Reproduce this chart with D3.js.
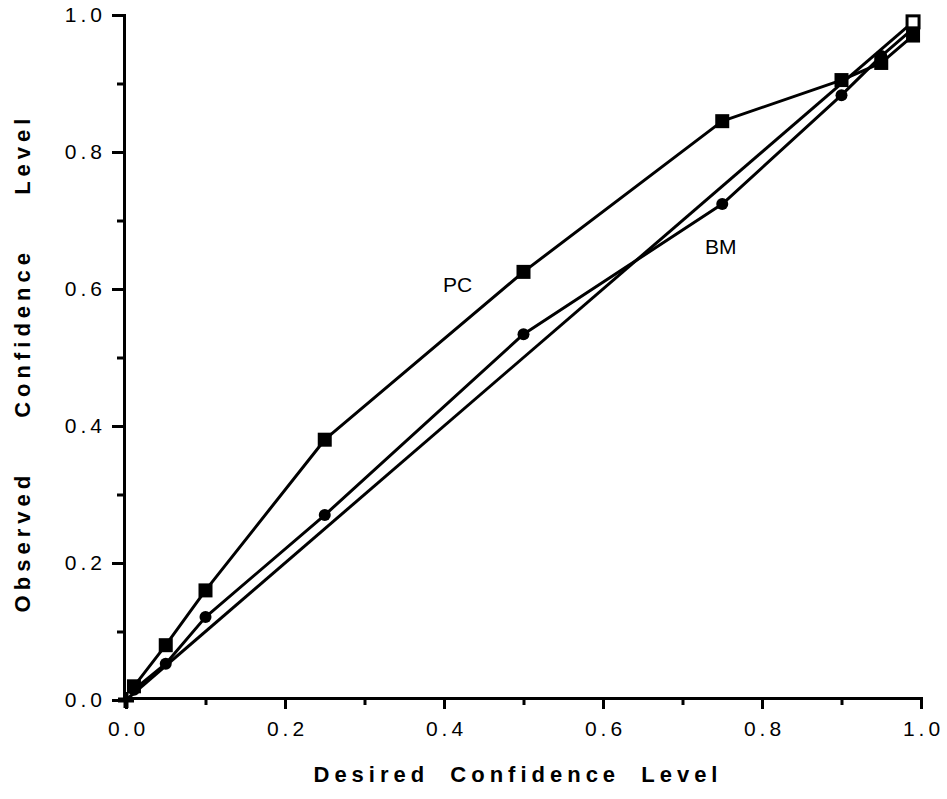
<!DOCTYPE html>
<html>
<head>
<meta charset="utf-8">
<script src="https://cdn.jsdelivr.net/npm/d3@7"></script>
<style>
  body { margin: 0; background: #fff; }
  .axis path, .axis line { stroke: #000; stroke-width: 3; }
  .axis text { font-family: "Liberation Sans", Arial, sans-serif; font-size: 21px; letter-spacing: 4px; fill: #000; }
</style>
</head>
<body>
<script>
// desired confidence levels (x) shared by both methods
const desired = [0.01, 0.05, 0.10, 0.25, 0.50, 0.75, 0.90, 0.95, 0.99];
const pcObserved = [0.02, 0.08, 0.16, 0.38, 0.625, 0.845, 0.905, 0.93, 0.97];
const bmObserved = [0.015, 0.053, 0.121, 0.27, 0.534, 0.724, 0.883, 0.94, 0.98];
const diagonal = [[0, 0], [0.99, 0.99]];
const majorTicks = [0, 0.2, 0.4, 0.6, 0.8, 1.0];
const minorTicks = [0.1, 0.3, 0.5, 0.7, 0.9];

const w = 947;
const h = 799;

const xScale = d3.scaleLinear().domain([0, 1]).range([126, 921]);
const yScale = d3.scaleLinear().domain([0, 1]).range([700, 15]);

const svg = d3.select("body").append("svg").attr("width", w).attr("height", h);

// axes
const xAxis = d3.axisBottom(xScale).tickValues(majorTicks).tickFormat(d3.format(".1f")).tickSize(11).tickSizeOuter(0).tickPadding(8);
const xMinor = d3.axisBottom(xScale).tickValues(minorTicks).tickFormat("").tickSize(7).tickSizeOuter(0);
const yAxis = d3.axisLeft(yScale).tickValues(majorTicks).tickFormat(d3.format(".1f")).tickSize(12).tickSizeOuter(0).tickPadding(6);
const yMinor = d3.axisLeft(yScale).tickValues(minorTicks).tickFormat("").tickSize(7).tickSizeOuter(0);

const gx = svg.append("g").attr("class", "axis").attr("transform", `translate(0, ${yScale(0) - 2})`).call(xAxis);
svg.append("g").attr("class", "axis").attr("transform", `translate(0, ${yScale(0) - 2})`).call(xMinor);
svg.append("g").attr("class", "axis").attr("transform", `translate(${xScale(0) - 2}, 0)`).call(yAxis);
svg.append("g").attr("class", "axis").attr("transform", `translate(${xScale(0) - 2}, 0)`).call(yMinor);

svg.selectAll(".axis .domain").attr("stroke-linecap", "square");
gx.selectAll("text").attr("dy", "0.9em").attr("dx", "2px");

const line = d3.line().x((d) => xScale(d[0])).y((d) => yScale(d[1]));

const pc = desired.map((d, i) => [d, pcObserved[i]]);
const bm = desired.map((d, i) => [d, bmObserved[i]]);

[diagonal, bm, pc].forEach((data) => {
  svg.append("path")
    .datum(data)
    .attr("d", line)
    .attr("fill", "none")
    .attr("stroke", "#000")
    .attr("stroke-width", 3)
    .attr("stroke-linejoin", "round");
});

// BM markers
svg.append("g")
  .selectAll("circle")
  .data(bm)
  .enter()
  .append("circle")
  .attr("cx", (d) => xScale(d[0]))
  .attr("cy", (d) => yScale(d[1]))
  .attr("r", 6)
  .attr("fill", "#000");

// PC markers
svg.append("g")
  .selectAll("rect")
  .data(pc)
  .enter()
  .append("rect")
  .attr("x", (d) => xScale(d[0]) - 7)
  .attr("y", (d) => yScale(d[1]) - 7)
  .attr("width", 14)
  .attr("height", 14)
  .attr("fill", "#000");

// end markers of the diagonal
svg.append("rect")
  .attr("x", xScale(diagonal[1][0]) - 6)
  .attr("y", yScale(diagonal[1][1]) - 6)
  .attr("width", 12)
  .attr("height", 12)
  .attr("fill", "#fff")
  .attr("stroke", "#000")
  .attr("stroke-width", 3);
svg.append("path")
  .attr("d", `M${xScale(0) - 8},${yScale(0)}h16M${xScale(0)},${yScale(0) - 8}v16`)
  .attr("stroke", "#000")
  .attr("stroke-width", 5);

// series labels
const labelFont = '"Liberation Sans", Arial, sans-serif';
svg.append("text").text("PC")
  .attr("x", 443).attr("y", 292)
  .style("font-family", labelFont).style("font-size", "21px");
svg.append("text").text("BM")
  .attr("x", 705).attr("y", 254)
  .style("font-family", labelFont).style("font-size", "21px");

// axis titles
svg.append("text").text("Desired Confidence Level")
  .attr("x", 518).attr("y", 782)
  .attr("text-anchor", "middle")
  .style("font-family", labelFont).style("font-size", "22px").style("font-weight", "bold")
  .style("letter-spacing", "5px").style("word-spacing", "10px");

svg.append("text").text("Observed Confidence Level")
  .attr("transform", `translate(30, 363) rotate(-90)`)
  .attr("text-anchor", "middle")
  .style("font-family", labelFont).style("font-size", "22px").style("font-weight", "bold")
  .style("letter-spacing", "5px").style("word-spacing", "42px");
</script>
</body>
</html>
